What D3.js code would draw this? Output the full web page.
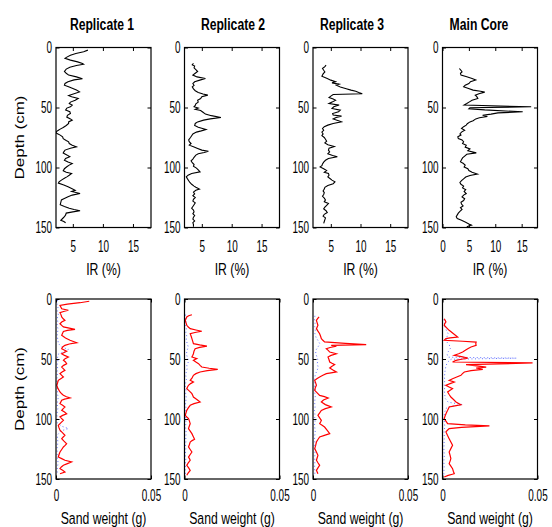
<!DOCTYPE html>
<html>
<head>
<meta charset="utf-8">
<script src="https://cdn.jsdelivr.net/npm/d3@7"></script>
<style>
  body { margin: 0; background: #fff; }
  svg { display: block; }
</style>
</head>
<body>
<svg id="fig" width="552" height="527"></svg>
<script>
// ---- core names and axis ticks ----
const coreNames = ["Replicate 1", "Replicate 2", "Replicate 3", "Main Core"];
const depthTicks = [0, 50, 100, 150];
const irTicksReplicate = [5, 10, 15];
const irTicksMain = [0, 5, 10, 15];
const sandTicks = [0, 0.05];
const sandTickLabels = ["0", "0.05"];
const irDomains = [[2.2, 18], [2.1, 18], [2.0, 18], [0, 18]];
const sandDomain = [0, 0.05];
const depthDomain = [0, 150];

// ---- IR (%) profiles: [depth cm, IR %] ----
const rep1Ir = [[2.2,7.5],[3.5,6.8],[5,5.5],[6.4,4.6],[8,4.0],[9,3.7],[10.5,4.6],[12,5.8],[13.3,6.6],[14,6.8],[15,5.6],[16.5,4.5],[18,3.9],[20,3.6],[21.5,3.9],[23,4.3],[24.5,5.6],[26,6.6],[27,5.2],[28.6,4.2],[30,3.7],[31.4,3.6],[33,4.4],[34,4.9],[35.5,5.6],[37,6.1],[38.5,5.2],[40,4.3],[41,4.8],[42.5,5.9],[44,5.4],[45.5,4.6],[46.7,4.4],[48,4.9],[49.4,4.6],[50.5,4.0],[52,3.8],[53.5,4.5],[55,4.6],[56.5,4.1],[58,4.0],[59.5,4.6],[60.5,4.9],[62,4.3],[63.3,4.3],[65,3.9],[66.7,3.4],[68,2.9],[69,2.6],[70.3,2.2],[71.5,2.3],[73,2.9],[74.5,3.3],[76,3.4],[77.5,3.9],[78.6,4.3],[80,4.4],[81.4,4.9],[82.8,5.6],[84,4.6],[85.5,3.7],[87,3.5],[88,3.4],[89.5,4.0],[91,4.5],[92.5,3.8],[94,3.6],[95.5,4.2],[96.7,4.9],[98,4.4],[99.4,4.0],[101,3.6],[102.8,3.4],[104,3.9],[105,4.8],[106.5,4.4],[107.8,4.0],[109,3.6],[110.5,3.1],[112,2.7],[113,2.6],[114.5,3.5],[116,4.2],[117.5,4.8],[119,5.4],[120,4.8],[121.7,6.2],[123,4.9],[124.4,4.2],[126,3.5],[127,3.1],[129,3.0],[131,2.9],[132.5,3.6],[134,4.4],[135,5.2],[136,6.2],[137,5.0],[138,3.9],[139.5,3.8],[141,3.6],[142.5,3.3],[144,3.0],[145,3.5],[146,3.8]];

const rep2Ir = [[13.3,3.6],[14.5,3.4],[15.5,3.8],[17,3.7],[18.5,4.0],[20,4.3],[21.5,3.9],[23,3.5],[24.5,4.2],[25.8,5.6],[27,4.8],[28.6,3.8],[30,3.5],[31.5,3.7],[32.8,3.4],[34.5,3.6],[36,3.9],[37.5,4.4],[38.8,5.2],[39.7,6.0],[41,5.0],[42.5,4.8],[44,4.3],[45.5,4.4],[47,4.0],[48.3,3.9],[49.4,3.7],[50.5,4.4],[51.5,3.9],[52.5,4.8],[54,5.2],[55.5,5.6],[56.8,6.6],[58.3,8.2],[59.5,6.4],[60.5,5.3],[62,4.3],[63.3,3.9],[65,3.8],[66.5,4.4],[68.3,5.7],[69.5,4.9],[70.5,4.1],[72,3.5],[73.5,3.3],[75,3.1],[77,2.8],[78.5,2.9],[80,3.2],[81.4,2.9],[82.8,3.6],[84,4.2],[85.5,5.0],[86.5,6.1],[87.5,5.4],[88.5,4.4],[89.7,4.0],[91.5,3.7],[93,3.5],[94.5,3.2],[96,3.4],[97.5,3.7],[99,3.6],[100.5,4.1],[102,4.4],[103.6,4.7],[105,3.3],[106.4,2.7],[107.8,2.4],[109.5,2.6],[111,2.8],[112.5,3.0],[114,3.3],[115.5,3.7],[116.5,4.0],[118,4.6],[119,4.0],[120.5,3.6],[122,3.8],[123.5,3.5],[125,3.9],[126.5,3.6],[128,3.5],[129.5,3.9],[131,3.7],[132.5,3.5],[134,3.3],[135.5,3.6],[137,3.7],[138.5,3.5],[140,3.8],[141.5,3.6],[143,3.5],[144.5,3.8],[146,3.5],[147.5,3.6],[149.4,3.6]];

const rep3Ir = [[14.7,4.2],[16,4.0],[17.5,3.6],[19,3.8],[20.3,4.0],[22,3.7],[24,3.5],[25.8,4.4],[27.2,5.0],[28.6,5.8],[29.5,5.2],[30.5,6.4],[31.4,5.9],[33,6.6],[34.3,7.6],[35.5,8.4],[36.5,9.2],[37.5,9.7],[38.6,10.3],[39.2,5.4],[40.5,5.0],[41.7,4.7],[43,5.4],[43.9,5.8],[45.3,5.3],[46.7,4.7],[48,6.4],[49.4,5.5],[50.8,5.2],[52.2,6.6],[53.6,6.3],[55,5.3],[56.2,5.4],[57.2,6.8],[58.4,5.9],[59.5,5.4],[61,6.3],[62,6.8],[63.3,5.4],[64.7,4.5],[66,3.9],[67.5,3.6],[69,3.8],[70.5,3.5],[72,3.7],[73.5,3.5],[75,3.9],[76.5,4.1],[78,4.3],[79.5,4.0],[81,4.5],[82.5,5.6],[84,4.7],[85.5,4.6],[87,4.8],[88.5,4.5],[90,5.3],[91,6.1],[92.5,4.6],[94,4.1],[95.5,3.8],[97,3.6],[98.5,3.5],[99.5,3.2],[101,3.8],[102.5,4.3],[104,3.9],[105,4.6],[106.4,4.7],[107.8,4.5],[109,4.8],[110.5,5.2],[112,5.7],[113.5,5.4],[115,4.5],[116.5,4.0],[118,3.9],[119.5,3.7],[121,3.9],[122.5,3.8],[124,3.6],[125.5,3.9],[127,4.1],[128.5,3.9],[130,4.6],[131.5,4.3],[133,4.0],[134.5,3.8],[136,4.2],[137.5,4.4],[139,3.9],[140.5,3.7],[142,4.1],[143.5,4.0],[145,3.9],[146.5,3.8]];

const mainIr = [[17.5,3.2],[19,3.5],[20.3,3.7],[21.5,3.4],[23,3.5],[24.4,4.6],[25.8,5.6],[27,6.3],[28.5,5.3],[30,5.0],[31.4,4.3],[32.8,4.0],[34,4.8],[35.5,5.8],[36.5,7.2],[37.2,8.0],[38.5,6.9],[39.7,6.2],[41,6.5],[42.5,6.7],[44,5.6],[45.3,5.1],[46.7,4.6],[48,4.1],[49.4,16.8],[50.2,5.2],[51,5.0],[52,8.0],[53.6,15.2],[54.5,10.5],[55.5,9.2],[56.5,7.6],[57.5,8.5],[58.5,7.0],[59.5,6.3],[61,5.8],[62,5.2],[63.5,4.7],[64.7,4.5],[66,4.0],[67.5,3.6],[69,4.2],[70.5,3.6],[72,3.3],[73,3.5],[74.4,2.9],[75.8,3.0],[77,3.7],[78.5,4.0],[80,3.8],[81.4,4.5],[83,4.3],[84.5,5.2],[86,4.8],[87.8,6.4],[89,4.6],[90.5,4.2],[92,3.8],[93.5,3.6],[95.3,3.4],[96.5,3.9],[98,4.3],[99.5,4.1],[101,4.8],[102.5,5.0],[104,5.6],[105.5,6.6],[106.6,5.2],[108,4.4],[109.5,4.0],[111,3.6],[112.5,3.3],[114,3.5],[115.5,4.0],[117,3.8],[118.5,4.4],[120,4.1],[121.7,4.5],[123,4.0],[124.5,3.7],[126,4.2],[127.5,4.0],[129,3.5],[130.5,3.6],[132,3.9],[133.5,3.4],[135,3.7],[136.5,3.3],[138,3.0],[139.5,2.8],[141,2.6],[142.5,2.8],[144,3.6],[145.5,4.3],[147,5.0],[148,5.5],[149.4,4.6]];

// ---- sand weight (g), sieved fraction: [depth cm, g] ----
const rep1Sand = [[1.9,0.0175],[3.1,0.0126],[4.2,0.0060],[5.3,0.0021],[6.8,0.0026],[8.1,0.0030],[9.4,0.0065],[10.4,0.0040],[11.4,0.0021],[13,0.0026],[15,0.0030],[16.5,0.0038],[17.8,0.0047],[19.2,0.0030],[20.6,0.0021],[22,0.0030],[23.3,0.0039],[24.3,0.0070],[25.3,0.0100],[26.2,0.0060],[27,0.0039],[28.8,0.0034],[30.3,0.0030],[32.5,0.0050],[34.4,0.0074],[36.4,0.0109],[37.5,0.0070],[38.6,0.0047],[40,0.0035],[41.4,0.0030],[43.6,0.0056],[45.6,0.0030],[47,0.0045],[48.3,0.0065],[49.7,0.0048],[51.1,0.0039],[52.5,0.0050],[53.9,0.0056],[55.3,0.0040],[56.7,0.0030],[58,0.0038],[59.4,0.0047],[60.8,0.0032],[62.2,0.0021],[63.6,0.0030],[65,0.0039],[66.4,0.0025],[67.8,0.0012],[70,0.0008],[71.9,0.0004],[74.5,0.0010],[77.5,0.0021],[79,0.0030],[80.3,0.0039],[81.5,0.0055],[82.5,0.0074],[83.5,0.0045],[84.4,0.0030],[87.2,0.0021],[88.6,0.0035],[90,0.0047],[91.4,0.0038],[92.8,0.0030],[94.2,0.0045],[95.6,0.0056],[97,0.0035],[98.3,0.0021],[99.7,0.0030],[101.1,0.0039],[103.2,0.0025],[105.3,0.0012],[107.4,0.0016],[109.4,0.0021],[111.5,0.0035],[113.6,0.0047],[115,0.0038],[116.4,0.0030],[118.5,0.0042],[120.6,0.0056],[122,0.0048],[123.3,0.0039],[125.4,0.0030],[127.5,0.0021],[129.6,0.0016],[131.7,0.0012],[133,0.0030],[134.4,0.0047],[135.8,0.0082],[137.2,0.0060],[138.6,0.0039],[140,0.0028],[141.4,0.0021],[142.8,0.0035],[144.2,0.0047],[145.6,0.0021]];

const rep2Sand = [[13.1,0.0039],[14,0.0022],[15,0.0012],[16.4,0.0008],[17.8,0.0004],[19.9,0.0008],[21.9,0.0012],[23.3,0.0020],[24.7,0.0030],[25.8,0.0060],[26.9,0.0091],[27.9,0.0055],[28.9,0.0030],[31,0.0035],[33,0.0039],[35.1,0.0043],[37.2,0.0047],[38.2,0.0080],[39.2,0.0118],[40.3,0.0080],[41.4,0.0056],[43.5,0.0050],[45.6,0.0047],[47,0.0043],[48.3,0.0039],[49.7,0.0065],[51.1,0.0047],[52.5,0.0060],[53.9,0.0074],[55.3,0.0082],[56.7,0.0091],[57.7,0.0130],[58.6,0.0175],[59.7,0.0120],[60.8,0.0082],[62.2,0.0060],[63.6,0.0047],[65.7,0.0040],[67.8,0.0030],[69.2,0.0047],[70.5,0.0032],[71.9,0.0021],[73.3,0.0016],[74.7,0.0012],[76.8,0.0026],[78.9,0.0039],[80.3,0.0043],[81.7,0.0047],[83.8,0.0065],[85.8,0.0082],[87.2,0.0050],[88.6,0.0030],[90.7,0.0020],[92.8,0.0012],[94.9,0.0008],[96.9,0.0004],[98.3,0.0012],[99.7,0.0021],[101.8,0.0026],[103.9,0.0030],[106,0.0025],[108,0.0021],[110.1,0.0030],[112.2,0.0039],[114.5,0.0046],[116.9,0.0053],[118,0.0040],[119.2,0.0030],[121.2,0.0026],[123.3,0.0021],[125.4,0.0030],[127.5,0.0039],[129.6,0.0030],[131.7,0.0021],[133,0.0026],[134.4,0.0030],[136.5,0.0020],[138.6,0.0012],[140.7,0.0022],[142.8,0.0030],[144.8,0.0020],[146.9,0.0012]];

const rep3Sand = [[15,0.0032],[16.4,0.0024],[17.8,0.0018],[19.9,0.0022],[21.9,0.0026],[23.3,0.0022],[24.7,0.0018],[26.8,0.0026],[28.9,0.0035],[31,0.0040],[33,0.0044],[34.4,0.0052],[35.8,0.0061],[37,0.0170],[38.1,0.0280],[38.6,0.0096],[39.4,0.0123],[40.4,0.0090],[41.4,0.0070],[42.8,0.0080],[44.2,0.0088],[45.6,0.0123],[47,0.0095],[48.3,0.0079],[50.4,0.0084],[52.5,0.0088],[53.6,0.0100],[54.7,0.0114],[56.1,0.0100],[57.5,0.0088],[59.2,0.0105],[60.8,0.0123],[61.5,0.0095],[62.2,0.0070],[63.6,0.0052],[65,0.0035],[66.4,0.0020],[67.8,0.0009],[69.9,0.0014],[71.9,0.0018],[74,0.0012],[76.1,0.0009],[78.2,0.0022],[80.3,0.0035],[81.4,0.0060],[82.5,0.0080],[84.2,0.0055],[85.8,0.0044],[88,0.0065],[90,0.0096],[91.4,0.0065],[92.8,0.0044],[94.9,0.0035],[96.9,0.0026],[99,0.0035],[101.1,0.0044],[102.5,0.0040],[103.9,0.0035],[105.3,0.0048],[106.7,0.0061],[109.5,0.0075],[112.2,0.0088],[113.6,0.0060],[115,0.0035],[117.1,0.0026],[119.2,0.0018],[122,0.0014],[124.7,0.0009],[127.5,0.0018],[130.3,0.0026],[132.3,0.0022],[134.4,0.0018],[136.5,0.0026],[138.6,0.0035],[140.7,0.0026],[142.8,0.0018],[144.2,0.0022],[145.6,0.0026]];

const mainSand = [[16.4,0.0009],[17.8,0.0014],[19.2,0.0018],[20.5,0.0012],[21.9,0.0009],[24,0.0022],[26.1,0.0035],[28.9,0.0058],[31.7,0.0080],[32.4,0.0040],[33,0.0018],[34.4,0.0009],[35.2,0.0106],[35.9,0.0177],[37.3,0.0175],[38.6,0.0177],[40,0.0150],[41.4,0.0133],[42.8,0.0120],[44.2,0.0106],[45.6,0.0085],[46.9,0.0062],[48,0.0100],[49.2,0.0133],[50.2,0.0100],[51.1,0.0071],[52.5,0.0053],[53.3,0.0474],[54.7,0.0124],[55.7,0.0180],[56.7,0.0230],[57.5,0.0177],[58.6,0.0212],[59.7,0.0150],[60.8,0.0115],[62.2,0.0105],[63.6,0.0097],[65,0.0075],[66.4,0.0053],[67.8,0.0035],[69.2,0.0062],[70.5,0.0040],[71.9,0.0018],[73.3,0.0035],[74.7,0.0053],[76.1,0.0040],[77.5,0.0027],[79.6,0.0035],[81.7,0.0044],[83.8,0.0058],[85.8,0.0071],[87,0.0085],[88.1,0.0097],[89,0.0065],[90,0.0035],[91.4,0.0031],[92.8,0.0027],[95,0.0020],[97.3,0.0014],[99.7,0.0009],[101.8,0.0018],[103.9,0.0027],[104.9,0.0120],[105.8,0.0247],[106.9,0.0100],[108,0.0035],[109.4,0.0026],[110.8,0.0018],[113.6,0.0026],[116.4,0.0035],[119.2,0.0044],[121.9,0.0053],[124.7,0.0044],[127.5,0.0035],[130.3,0.0040],[133,0.0044],[135.1,0.0040],[137.2,0.0035],[139.3,0.0044],[141.4,0.0053],[143.5,0.0057],[145.6,0.0062],[147,0.0030],[148.3,0.0009]];

// ---- sand weight (g), second fraction (dotted) ----
const rep1Fine = [[1,0.0008],[4,0.0005],[7,0.0010],[10,0.0006],[13,0.0012],[16,0.0007],[19,0.0009],[22,0.0005],[25,0.0011],[28,0.0008],[31,0.0006],[34,0.0010],[37,0.0012],[40,0.0030],[42,0.0065],[44,0.0040],[46,0.0012],[49,0.0008],[52,0.0010],[55,0.0006],[58,0.0009],[61,0.0005],[64,0.0008],[67,0.0004],[70,0.0006],[73,0.0005],[76,0.0009],[79,0.0007],[82,0.0012],[85,0.0008],[88,0.0006],[91,0.0010],[94,0.0007],[97,0.0005],[100,0.0008],[103,0.0006],[106,0.0030],[108,0.0065],[110,0.0025],[113,0.0009],[116,0.0007],[119,0.0010],[122,0.0008],[125,0.0005],[128,0.0007],[131,0.0006],[134,0.0009],[137,0.0011],[140,0.0007],[143,0.0006],[146,0.0008]];

const rep2Fine = [[13,0.0006],[16,0.0004],[19,0.0008],[22,0.0005],[25,0.0010],[28,0.0007],[31,0.0012],[34,0.0009],[37,0.0014],[40,0.0020],[43,0.0013],[46,0.0010],[49,0.0016],[52,0.0022],[55,0.0012],[58,0.0014],[61,0.0009],[64,0.0007],[67,0.0010],[70,0.0006],[73,0.0005],[76,0.0008],[79,0.0006],[82,0.0009],[85,0.0007],[88,0.0005],[91,0.0008],[94,0.0006],[97,0.0004],[100,0.0006],[103,0.0008],[106,0.0005],[109,0.0007],[112,0.0009],[115,0.0006],[118,0.0008],[121,0.0005],[124,0.0007],[127,0.0006],[130,0.0004],[133,0.0007],[136,0.0005],[139,0.0006],[142,0.0004],[145,0.0006],[147,0.0005]];

const rep3Fine = [[14,0.0010],[17,0.0008],[20,0.0011],[23,0.0009],[26,0.0012],[29,0.0010],[32,0.0016],[35,0.0028],[37,0.0035],[39,0.0030],[42,0.0018],[45,0.0014],[48,0.0020],[51,0.0026],[54,0.0022],[57,0.0028],[60,0.0020],[63,0.0012],[66,0.0009],[69,0.0010],[72,0.0008],[75,0.0011],[78,0.0009],[81,0.0012],[84,0.0010],[87,0.0009],[90,0.0011],[93,0.0008],[96,0.0010],[99,0.0009],[102,0.0011],[105,0.0008],[108,0.0010],[111,0.0012],[114,0.0009],[117,0.0008],[120,0.0010],[123,0.0008],[126,0.0009],[129,0.0011],[132,0.0008],[135,0.0010],[138,0.0009],[141,0.0008],[144,0.0010],[147,0.0009]];

const mainFine = [[17,0.0008],[20,0.0010],[23,0.0012],[26,0.0020],[29,0.0030],[32,0.0022],[35,0.0018],[38,0.0035],[41,0.0042],[44,0.0030],[46.5,0.0025],[48.5,0.0030],[49.3,0.0390],[50.2,0.0045],[51.5,0.0035],[53,0.0025],[56,0.0018],[59,0.0014],[62,0.0012],[65,0.0010],[68,0.0012],[71,0.0009],[74,0.0011],[77,0.0010],[80,0.0012],[83,0.0015],[86,0.0030],[88,0.0105],[89.5,0.0040],[91,0.0020],[94,0.0012],[97,0.0009],[100,0.0008],[103,0.0010],[106,0.0012],[109,0.0009],[112,0.0008],[115,0.0010],[118,0.0008],[121,0.0009],[124,0.0007],[127,0.0008],[130,0.0010],[133,0.0008],[136,0.0007],[139,0.0009],[142,0.0008],[145,0.0007],[148,0.0008]];

const irSeries = [rep1Ir, rep2Ir, rep3Ir, mainIr];
const sandSeries = [rep1Sand, rep2Sand, rep3Sand, mainSand];
const fineSeries = [rep1Fine, rep2Fine, rep3Fine, mainFine];

// ---- layout ----
const W = 552, H = 527;
const panelLeft = [56, 184.5, 313, 442.5];
const panelWidth = 95;
const rowTop = [47.5, 299];
const rowHeight = 180;
const titleX = [102, 233, 352, 479];
const FONT = "'Liberation Sans', Arial, Helvetica, sans-serif";
const tickSize = 16, tickCond = 0.62;    // tick numerals
const nameSize = 17, nameCond = 0.72;    // axis names
const titleSize = 16, titleCond = 0.76;  // core titles

const svg = d3.select("#fig");
svg.append("rect").attr("width", W).attr("height", H).attr("fill", "#fff");

function condensedText(g, x, y, str, size, weight, cond) {
  return g.append("text")
    .attr("transform", `translate(${x},${y}) scale(${cond},1)`)
    .attr("text-anchor", "middle")
    .attr("font-family", FONT)
    .attr("font-size", size)
    .attr("font-weight", weight)
    .attr("fill", "#000")
    .text(str);
}

function drawPanel(col, row) {
  const x0 = panelLeft[col], y0 = rowTop[row];
  const g = svg.append("g").attr("transform", `translate(${x0},${y0})`);
  const y = d3.scaleLinear().domain(depthDomain).range([0, rowHeight]);
  const x = row === 0
    ? d3.scaleLinear().domain(irDomains[col]).range([0, panelWidth])
    : d3.scaleLinear().domain(sandDomain).range([0, panelWidth]);
  const xTicks = row === 0 ? (col === 3 ? irTicksMain : irTicksReplicate) : sandTicks;

  const clip = `clip-${row}-${col}`;
  g.append("clipPath").attr("id", clip)
    .append("rect").attr("width", panelWidth).attr("height", rowHeight);

  const line = d3.line().x(d => x(d[1])).y(d => y(d[0]));
  const plot = g.append("g").attr("clip-path", `url(#${clip})`);

  if (row === 0) {
    plot.append("path").datum(irSeries[col])
      .attr("d", line).attr("fill", "none")
      .attr("stroke", "#000").attr("stroke-width", 1.1)
      .attr("stroke-linejoin", "miter");
  } else {
    plot.append("path").datum(fineSeries[col])
      .attr("d", line).attr("fill", "none")
      .attr("stroke", "#3a4cff").attr("stroke-width", 1)
      .attr("stroke-dasharray", "1,2.5").attr("stroke-opacity", 0.8);
    plot.append("path").datum(sandSeries[col])
      .attr("d", line).attr("fill", "none")
      .attr("stroke", "#ff0000").attr("stroke-width", 1.2)
      .attr("stroke-linejoin", "miter");
  }

  // inward ticks on all four sides
  const tickLen = 3.5;
  const axes = [
    g.append("g").call(d3.axisLeft(y).tickValues(depthTicks).tickSize(-tickLen).tickFormat(d3.format("d"))),
    g.append("g").attr("transform", `translate(${panelWidth},0)`)
      .call(d3.axisRight(y).tickValues(depthTicks).tickSize(-tickLen).tickFormat("")),
    g.append("g").attr("transform", `translate(0,${rowHeight})`)
      .call(d3.axisBottom(x).tickValues(xTicks).tickSize(-tickLen)
        .tickFormat((d, i) => row === 0 ? String(d) : sandTickLabels[i])),
    g.append("g").call(d3.axisTop(x).tickValues(xTicks).tickSize(-tickLen).tickFormat(""))
  ];
  axes.forEach(a => {
    a.select(".domain").remove();
    a.selectAll(".tick line").attr("stroke", "#000").attr("stroke-width", 1);
    a.selectAll(".tick text")
      .attr("font-family", FONT).attr("font-size", tickSize).attr("fill", "#000");
  });
  // left labels
  axes[0].selectAll(".tick text")
    .attr("x", 0).attr("dy", null).attr("dominant-baseline", "central")
    .attr("transform", `translate(-4,0) scale(${tickCond},1)`);
  // bottom labels
  axes[2].selectAll(".tick text")
    .attr("y", 0).attr("dy", null)
    .attr("transform", `translate(0,${row === 0 ? 24 : 22}) scale(${tickCond},1)`);

  // frame
  g.append("rect").attr("width", panelWidth).attr("height", rowHeight)
    .attr("fill", "none").attr("stroke", "#000").attr("stroke-width", 1.2);

  // axis name under panel
  const cx = panelWidth / 2;
  condensedText(g, cx, rowHeight + (row === 0 ? 47 : 45),
    row === 0 ? "IR (%)" : "Sand weight (g)", nameSize, "normal", nameCond);
}

for (let r = 0; r < 2; r++) for (let c = 0; c < 4; c++) drawPanel(c, r);

// core titles
coreNames.forEach((t, i) => condensedText(svg, titleX[i], 30, t, titleSize, "bold", titleCond));

// depth labels
[rowTop[0] + rowHeight / 2, rowTop[1] + rowHeight / 2].forEach(cy => {
  svg.append("text")
    .attr("transform", `translate(24,${cy}) scale(0.75,1) rotate(-90)`)
    .attr("text-anchor", "middle")
    .attr("font-family", FONT).attr("font-size", 17).attr("fill", "#000")
    .text("Depth (cm)");
});
</script>
</body>
</html>
